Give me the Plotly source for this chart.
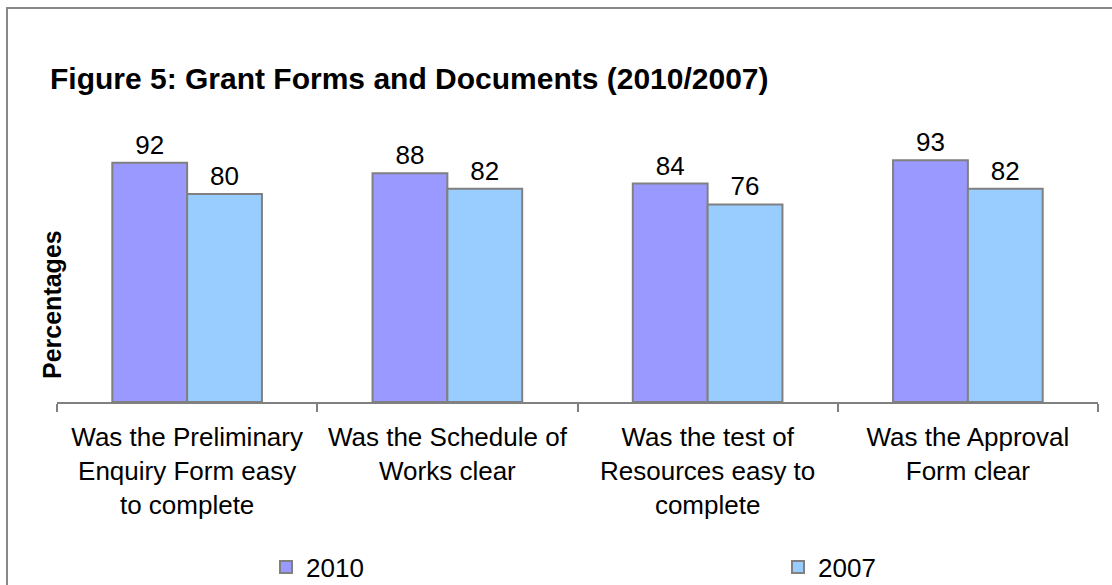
import plotly.graph_objects as go

categories = [
    "Was the Preliminary<br>Enquiry Form easy<br>to complete",
    "Was the Schedule of<br>Works clear",
    "Was the test of<br>Resources easy to<br>complete",
    "Was the Approval<br>Form clear",
]
series_names = ["2010", "2007"]
values_2010 = [92, 88, 84, 93]
values_2007 = [80, 82, 76, 82]
colors = ["#9999FF", "#99CCFF"]

FONT = "Arial, 'Liberation Sans', sans-serif"
W, H = 1112, 585
L, R, T, B = 57, 14, 142, 183
PW, PH = W - L - R, H - T - B


def px_x(x):
    return (x - L) / PW


def px_y(y):
    return (H - B - y) / PH


fig = go.Figure()
for i, (name, vals, col) in enumerate(zip(series_names, [values_2010, values_2007], colors)):
    fig.add_trace(go.Bar(
        x=categories, y=vals, name=name,
        marker=dict(color=col, line=dict(color="#808080", width=2)),
        text=[str(v) for v in vals], textposition="outside",
        textfont=dict(family=FONT, size=26, color="black"),
        cliponaxis=False,
        legend="legend" if i == 0 else "legend2",
    ))

legend_common = dict(
    orientation="h", xref="container", yref="container",
    xanchor="left", y=1 - 567 / H, yanchor="middle",
    font=dict(family=FONT, size=26, color="black"),
    itemwidth=30, bgcolor="rgba(0,0,0,0)",
)

fig.update_layout(
    width=W, height=H,
    margin=dict(l=L, r=R, t=T, b=B, autoexpand=False),
    paper_bgcolor="white", plot_bgcolor="white",
    barmode="group", bargap=0.425, bargroupgap=0,
    font=dict(family=FONT, color="black"),
    title=dict(
        text="Figure 5: Grant Forms and Documents (2010/2007)",
        font=dict(family=FONT, size=30, color="black", weight="bold"),
        x=50 / W, xanchor="left", xref="container",
        y=1 - 78 / H, yanchor="middle", yref="container",
    ),
    xaxis=dict(
        showline=True, linecolor="#808080", linewidth=2,
        ticks="outside", tickson="boundaries", ticklen=8,
        tickcolor="#808080", tickwidth=2,
        tickfont=dict(family=FONT, size=26, color="black"),
        ticklabelstandoff=11,
        showgrid=False, zeroline=False,
    ),
    yaxis=dict(
        range=[0, 100], showline=False, showticklabels=False,
        ticks="", showgrid=False, zeroline=False,
    ),
    showlegend=True,
    legend=dict(x=266 / W, **legend_common),
    legend2=dict(x=778 / W, **legend_common),
    annotations=[dict(
        text="Percentages", textangle=-90,
        xref="paper", yref="paper",
        x=px_x(52), y=px_y(305),
        xanchor="center", yanchor="middle", showarrow=False,
        font=dict(family=FONT, size=25, color="black", weight="bold"),
    )],
    shapes=[dict(
        type="rect", xref="paper", yref="paper",
        x0=px_x(7), x1=px_x(W + 20),
        y0=px_y(H + 20), y1=px_y(8),
        line=dict(color="#888888", width=2), fillcolor="rgba(0,0,0,0)", layer="below",
    )],
)

fig.write_html(
    "out.html",
    config={"displayModeBar": False},
    post_script="document.body.style.margin='0px';",
)
